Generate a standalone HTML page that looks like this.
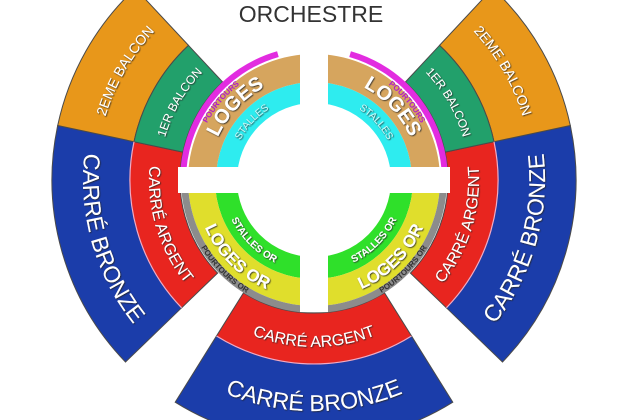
<!DOCTYPE html>
<html><head><meta charset="utf-8"><style>
html,body{margin:0;padding:0;background:#fff;overflow:hidden;}
svg{display:block;}
text{font-family:"Liberation Sans",sans-serif;}
</style></head><body>
<svg width="620" height="420" viewBox="0 0 620 420" xmlns="http://www.w3.org/2000/svg">
<defs>
<filter id="sh" x="-20%" y="-20%" width="140%" height="140%"><feDropShadow dx="0.8" dy="0.8" stdDeviation="0.4" flood-color="#222" flood-opacity="0.9"/></filter>
<clipPath id="top"><rect x="0" y="0" width="620" height="180"/></clipPath>
<clipPath id="bot"><rect x="0" y="180" width="620" height="240"/></clipPath>
<path id="p1" d="M178.2,-6.9 A231 231 0 0 0 297.9,410.4"/>
<path id="p2" d="M330.1,410.4 A231 231 0 0 0 449.8,-6.9"/>
<path id="p3" d="M214.7,48.2 A165 165 0 0 0 305.4,344.8"/>
<path id="p4" d="M322.6,344.8 A165 165 0 0 0 413.3,48.2"/>
<path id="p5" d="M157.1,237.1 A167 167 0 0 0 470.9,237.1"/>
<path id="p6" d="M96.9,259 A231 231 0 0 0 531.1,259"/>
<path id="p7" d="M147,320.1 A218 218 0 0 1 351.8,-34.7"/>
<path id="p8" d="M276.2,-34.7 A218 218 0 0 1 481,320.1"/>
<path id="p9" d="M195.3,279.6 A155 155 0 0 1 340.9,27.4"/>
<path id="p10" d="M287.1,27.4 A155 155 0 0 1 432.7,279.6"/>
<path id="p11" d="M220.4,227.7 A105 105 0 0 1 355,83.3"/>
<path id="p12" d="M273,83.3 A105 105 0 0 1 407.6,227.7"/>
<path id="p13" d="M239.2,218.1 A84 84 0 0 1 346.8,102.7"/>
<path id="p14" d="M281.2,102.7 A84 84 0 0 1 388.8,218.1"/>
<path id="p15" d="M209.2,240.5 A121 121 0 0 1 355.4,66.3"/>
<path id="p16" d="M272.6,66.3 A121 121 0 0 1 418.8,240.5"/>
<path id="p17" d="M206.1,129.7 A119 119 0 0 0 364.3,287.9"/>
<path id="p18" d="M263.7,287.9 A119 119 0 0 0 421.9,129.7"/>
<path id="p19" d="M231.1,141.3 A91.5 91.5 0 0 0 352.7,262.9"/>
<path id="p20" d="M275.3,262.9 A91.5 91.5 0 0 0 396.9,141.3"/>
<path id="p21" d="M194.8,124.4 A131.5 131.5 0 0 0 369.6,299.2"/>
<path id="p22" d="M258.4,299.2 A131.5 131.5 0 0 0 433.2,124.4"/>
</defs>

<text x="311" y="22" font-size="23" fill="#333" text-anchor="middle">ORCHESTRE</text>

<g stroke="#4a4a4a" stroke-width="1">
<path d="M570.3,125.5 A262 262 0 0 1 502.5,362 L446.4,307.8 A184 184 0 0 0 494,141.7 Z" fill="#1B3DAA"/>
<path d="M494,141.7 A184 184 0 0 1 446.4,307.8 L410.4,273.1 A134 134 0 0 0 445.1,152.1 Z" fill="#E8251F"/>
<path d="M492.7,-11.6 A262 262 0 0 1 570.3,125.5 L494,141.7 A184 184 0 0 0 439.5,45.4 Z" fill="#E8971A"/>
<path d="M439.5,45.4 A184 184 0 0 1 494,141.7 L445.1,152.1 A134 134 0 0 0 405.4,82 Z" fill="#22A06B"/>
<path d="M57.7,125.5 A262 262 0 0 0 125.5,362 L181.6,307.8 A184 184 0 0 1 134,141.7 Z" fill="#1B3DAA"/>
<path d="M134,141.7 A184 184 0 0 0 181.6,307.8 L217.6,273.1 A134 134 0 0 1 182.9,152.1 Z" fill="#E8251F"/>
<path d="M135.3,-11.6 A262 262 0 0 0 57.7,125.5 L134,141.7 A184 184 0 0 1 188.5,45.4 Z" fill="#E8971A"/>
<path d="M188.5,45.4 A184 184 0 0 0 134,141.7 L182.9,152.1 A134 134 0 0 1 222.6,82 Z" fill="#22A06B"/>
<path d="M175.2,402.2 A262 262 0 0 0 452.8,402.2 L411.5,336 A184 184 0 0 1 216.5,336 Z" fill="#1B3DAA"/>
<path d="M216.5,336 A184 184 0 0 0 411.5,336 L384.5,292.8 A133 133 0 0 1 243.5,292.8 Z" fill="#E8251F"/>
</g>
<g fill="none" stroke="#f3a9c6" stroke-width="1.2">
<path d="M494,141.7 A184 184 0 0 1 446.4,307.8"/>
<path d="M134,141.7 A184 184 0 0 0 181.6,307.8"/>
<path d="M216.5,336 A184 184 0 0 0 411.5,336"/>
</g>

<g fill="none" clip-path="url(#top)">
<circle cx="314" cy="180" r="87.5" stroke="#2EECEF" stroke-width="21"/>
<circle cx="314" cy="180" r="112" stroke="#D6A55E" stroke-width="28"/>
</g>
<g fill="none" stroke="#E22CE0" stroke-width="6">
<path d="M350.1,54.1 A131 131 0 0 1 445,180"/>
<path d="M277.9,54.1 A131 131 0 0 0 183,180"/>
</g>
<g fill="none" clip-path="url(#bot)">
<circle cx="314" cy="180" r="88" stroke="#2FE02A" stroke-width="22"/>
<circle cx="314" cy="180" r="112.5" stroke="#E0DE2C" stroke-width="27"/>
<circle cx="314" cy="180" r="129.5" stroke="#8C8C8C" stroke-width="7"/>
</g>
<rect x="300" y="40" width="28" height="272" fill="#fff"/>
<rect x="178" y="167" width="272" height="26" fill="#fff"/>

<g fill="#fff" filter="url(#sh)" text-anchor="middle">
<text font-size="23"><textPath href="#p1" startOffset="50%">CARRÉ BRONZE</textPath></text>
<text font-size="23"><textPath href="#p2" startOffset="50%">CARRÉ BRONZE</textPath></text>
<text font-size="16"><textPath href="#p3" startOffset="50%">CARRÉ ARGENT</textPath></text>
<text font-size="16"><textPath href="#p4" startOffset="50%">CARRÉ ARGENT</textPath></text>
<text font-size="16"><textPath href="#p5" startOffset="50%">CARRÉ ARGENT</textPath></text>
<text font-size="23"><textPath href="#p6" startOffset="50%">CARRÉ BRONZE</textPath></text>
<text font-size="14"><textPath href="#p7" startOffset="50%">2EME BALCON</textPath></text>
<text font-size="14"><textPath href="#p8" startOffset="50%">2EME BALCON</textPath></text>
<text font-size="12"><textPath href="#p9" startOffset="50%">1ER BALCON</textPath></text>
<text font-size="12"><textPath href="#p10" startOffset="50%">1ER BALCON</textPath></text>
<text font-size="20" font-weight="bold"><textPath href="#p11" startOffset="50%">LOGES</textPath></text>
<text font-size="20" font-weight="bold"><textPath href="#p12" startOffset="50%">LOGES</textPath></text>
<text font-size="10" fill="#c8f8f8"><textPath href="#p13" startOffset="50%">STALLES</textPath></text>
<text font-size="10" fill="#c8f8f8"><textPath href="#p14" startOffset="50%">STALLES</textPath></text>
<text font-size="17" font-weight="bold"><textPath href="#p17" startOffset="50%">LOGES OR</textPath></text>
<text font-size="17" font-weight="bold"><textPath href="#p18" startOffset="50%">LOGES OR</textPath></text>
<text font-size="10" font-weight="bold"><textPath href="#p19" startOffset="50%">STALLES OR</textPath></text>
<text font-size="10" font-weight="bold"><textPath href="#p20" startOffset="50%">STALLES OR</textPath></text>
</g>
<g text-anchor="middle" font-size="8" font-weight="bold">
<text fill="#b020c8"><textPath href="#p15" startOffset="50%">POURTOURS</textPath></text>
<text fill="#b020c8"><textPath href="#p16" startOffset="50%">POURTOURS</textPath></text>
<text fill="#333"><textPath href="#p21" startOffset="50%">POURTOURS OR</textPath></text>
<text fill="#333"><textPath href="#p22" startOffset="50%">POURTOURS OR</textPath></text>
</g>
</svg>
</body></html>
